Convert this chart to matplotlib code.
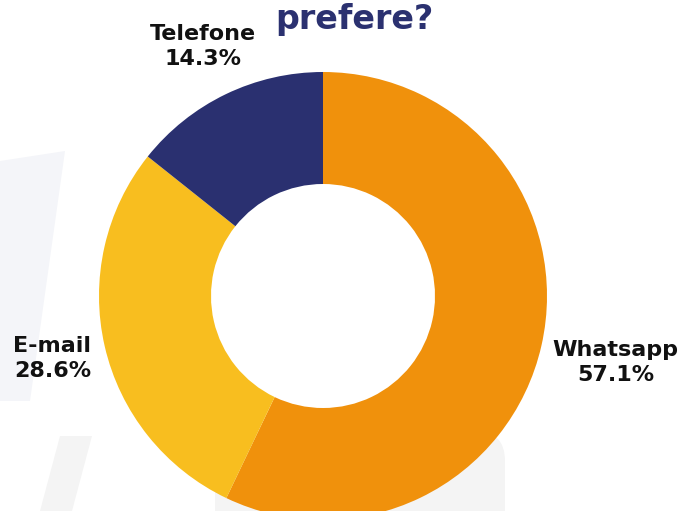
import numpy as np
import matplotlib
matplotlib.use("Agg")
import matplotlib.pyplot as plt
from matplotlib.patches import Polygon, FancyBboxPatch

categories = ["Whatsapp", "E-mail", "Telefone"]
values = [57.1, 28.6, 14.3]
colors = ["#F0910C", "#F8BE1F", "#2A3070"]
title_text = "prefere?"

W, H = 684, 511
fig = plt.figure(figsize=(W / 100, H / 100), dpi=100)
ax = fig.add_axes([0, 0, 1, 1])

# faint watermark shapes
ax.add_patch(Polygon([[0, 110], [30, 110], [65, 360], [0, 350]], closed=True,
                     facecolor="#F4F5F9", edgecolor="none", zorder=0))
ax.add_patch(Polygon([[40, 0], [72, 0], [92, 75], [60, 75]], closed=True,
                     facecolor="#F4F4F4", edgecolor="none", zorder=0))
ax.add_patch(FancyBboxPatch((215, -40), 290, 120, boxstyle="round,pad=0,rounding_size=30",
                            facecolor="#F4F4F4", edgecolor="none", zorder=0))

cx, cy, R = 323, 215, 224
wedges, _ = ax.pie(values, colors=colors, startangle=90, counterclock=False,
                   radius=R, center=(cx, cy), wedgeprops=dict(width=R * 0.5, edgecolor="none"),
                   frame=True)
ax.set_xlim(0, W)
ax.set_ylim(0, H)
ax.set_aspect("equal")
ax.axis("off")

label_dist = [1.34, 1.24, 1.235]
for w, cat, val, d in zip(wedges, categories, values, label_dist):
    ang = np.deg2rad((w.theta1 + w.theta2) / 2)
    x = cx + d * R * np.cos(ang)
    y = cy + d * R * np.sin(ang)
    ax.text(x, y, f"{cat}\n{val:.1f}%", ha="center", va="center", fontsize=16,
            fontweight="bold", color="#111111", linespacing=1.3)

ax.text(354, 482, title_text, ha="center", va="baseline", fontsize=24,
        fontweight="bold", color="#2B3170")

fig.savefig("out.png", dpi=100)
